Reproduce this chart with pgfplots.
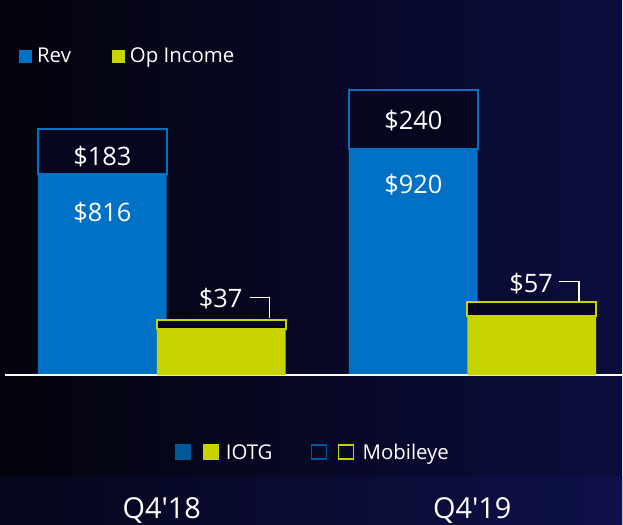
\documentclass[border=0pt]{standalone}
\usepackage{pgfplots}
\pgfplotsset{compat=1.18}
\usepackage{pgfplotstable}
\usepackage{fontspec}
\setmainfont{Open Sans}[Ligatures=TeXOff]
\definecolor{bgL}{HTML}{03030C}
\definecolor{bgR}{HTML}{0B0D3E}
\definecolor{bgbL}{HTML}{05061C}
\definecolor{bgbR}{HTML}{0E1149}
\definecolor{iblue}{HTML}{0071C5}
\definecolor{igreen}{HTML}{C8D400}
\definecolor{lblue}{HTML}{00589A}
\definecolor{boxfill}{HTML}{06071F}

\pgfplotstableread{
x iotg mobileye
102.5 816 183
414 920 240
}\revtable
\pgfplotstableread{
x iotg mobileye
221.5 189 37
532.5 243 57
}\optable

\begin{document}
\begin{tikzpicture}[x=1bp,y=1bp]
\shade[left color=bgL, right color=bgR] (0,0) rectangle (623,525);
\shade[left color=bgbL, right color=bgbR] (0,0) rectangle (623,48);
\pgfplotsset{base/.style={at={(0,0)}, anchor=south west, scale only axis,
  width=623bp, height=525bp, xmin=0, xmax=623, ymin=-604.2, ymax=1524.7,
  hide axis, ybar stacked, bar width=129, bar shift=0pt, clip=false}}
\begin{axis}[base]
\addplot[fill=iblue, draw=none] table[x=x,y=iotg]{\revtable};
\addplot[fill=boxfill, draw=iblue, line width=2bp] table[x=x,y=mobileye]{\revtable};
\end{axis}
\begin{axis}[base]
\addplot[fill=igreen, draw=none] table[x=x,y=iotg]{\optable};
\addplot[fill=boxfill, draw=igreen, line width=2bp] table[x=x,y=mobileye]{\optable};
\draw[white, line width=2bp] (axis cs:5,0) -- (axis cs:623,0);
\node[text=white, inner sep=0pt, anchor=base, font=\fontsize{25.5}{30}\selectfont] at (axis cs:102.5,852) {\$183};
\node[text=white, inner sep=0pt, anchor=base, font=\fontsize{25.5}{30}\selectfont] at (axis cs:102.5,625) {\$816};
\node[text=white, inner sep=0pt, anchor=base, font=\fontsize{25.5}{30}\selectfont] at (axis cs:414,998) {\$240};
\node[text=white, inner sep=0pt, anchor=base, font=\fontsize{25.5}{30}\selectfont] at (axis cs:414,738) {\$920};
\node[text=white, inner sep=0pt, anchor=base, font=\fontsize{25.5}{30}\selectfont] at (axis cs:221.5,85) {\$189};
\node[text=white, inner sep=0pt, anchor=base, font=\fontsize{25.5}{30}\selectfont] at (axis cs:532.5,77) {\$243};
\node[text=white, inner sep=0pt, anchor=base, font=\fontsize{25.5}{30}\selectfont] at (axis cs:221,276) {\$37};
\node[text=white, inner sep=0pt, anchor=base, font=\fontsize{25.5}{30}\selectfont] at (axis cs:532,337) {\$57};
\draw[white, line width=1.3bp] (axis cs:250,316) -- (axis cs:270,316) -- (axis cs:270,232);
\draw[white, line width=1.3bp] (axis cs:560,381) -- (axis cs:580,381) -- (axis cs:580,304);
\end{axis}
% top legend
\fill[iblue] (19,462) rectangle (32,475);
\node[text=white, inner sep=0pt, anchor=base west, font=\fontsize{20.5}{24}\selectfont] at (37,462) {Rev};
\fill[igreen] (112,462) rectangle (125,475);
\node[text=white, inner sep=0pt, anchor=base west, font=\fontsize{20.5}{24}\selectfont] at (130,462) {Op Income};
% bottom legend
\fill[lblue] (175,64) rectangle (191,80);
\fill[igreen] (203,64) rectangle (219,80);
\node[text=white, inner sep=0pt, anchor=base west, font=\fontsize{20.5}{24}\selectfont] at (226,65) {IOTG};
\draw[lblue, line width=1.8bp] (312,65) rectangle (327,79);
\draw[igreen, line width=1.8bp] (339,65) rectangle (354,79);
\node[text=white, inner sep=0pt, anchor=base west, font=\fontsize{20.5}{24}\selectfont] at (363,65) {Mobileye};
% categories
\node[text=white, inner sep=0pt, anchor=base, font=\fontsize{29}{34}\selectfont] at (162,6) {Q4'18};
\node[text=white, inner sep=0pt, anchor=base, font=\fontsize{29}{34}\selectfont] at (473,6) {Q4'19};
\end{tikzpicture}
\end{document}
